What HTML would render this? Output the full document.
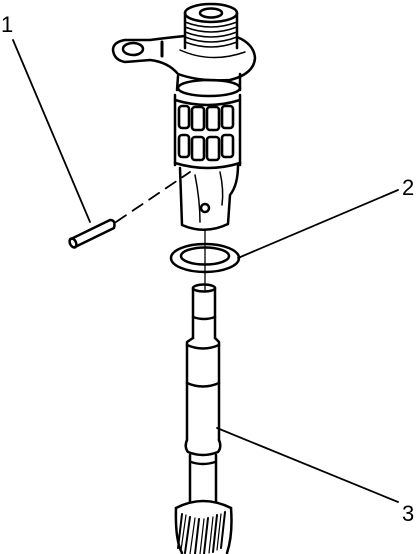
<!DOCTYPE html>
<html><head><meta charset="utf-8"><style>
html,body{margin:0;padding:0;background:#fff;}
svg{display:block;}
text{font-family:"Liberation Sans",sans-serif;font-size:22px;fill:#000;}
</style></head><body>
<svg width="419" height="554" viewBox="0 0 419 554" fill="none" stroke="#000" stroke-width="2.5" stroke-linejoin="round" stroke-linecap="round">
<text x="1" y="32" stroke="none">1</text>
<text x="402" y="195" stroke="none">2</text>
<text x="402" y="521" stroke="none">3</text>
<line x1="13" y1="40" x2="90" y2="222" stroke-width="1.8"/>
<line x1="398" y1="190" x2="238" y2="258" stroke-width="1.8"/>
<line x1="398" y1="502" x2="217" y2="428" stroke-width="1.8"/>

<g>
<path d="M71,239 L110,220 Q116,220 114,228 L75,247"/>
<ellipse cx="73" cy="243" rx="3" ry="4.8" transform="rotate(-26 73 243)"/>
</g>
<line x1="116" y1="222" x2="190" y2="172" stroke-dasharray="12,8" stroke-width="1.8"/>

<g>
<path d="M185,13 L185,48 M237,13 L237,48"/>
<ellipse cx="211" cy="13" rx="26" ry="9"/>
<ellipse cx="211" cy="13" rx="11" ry="4.5"/>
<path d="M185,22 Q211,32 237,22 M185,27 Q211,37 237,27 M185,32 Q211,42 237,32 M185,37 Q211,47 237,37 M185,42 Q211,52 237,42" stroke-width="1.5"/>
<path d="M185,36 Q165,38 150,40 L125,40 Q113,42 113,50 Q114,60 125,62 L150,60 Q168,62 178,74 Q200,82 230,80 Q254,74 255,58 Q254,44 237,37"/>
<ellipse cx="133" cy="49" rx="10" ry="6"/>
<path d="M162,42 L162,56" stroke-width="3"/>
<path d="M180,50 Q211,64 245,52" stroke-width="1.5"/>
<path d="M178,76 L177,90 M240,74 L240,90"/>
<ellipse cx="209" cy="88" rx="31" ry="8"/>
<path d="M175,95 L175,165 M240,95 L240,165"/>
<path d="M175,100 Q208,110 240,100"/>
<g stroke-width="2.6">
<rect x="179" y="106" width="10" height="22" rx="3"/>
<rect x="192" y="107" width="12" height="23" rx="3"/>
<rect x="207" y="107" width="12" height="23" rx="3"/>
<rect x="222" y="106" width="11" height="22" rx="3"/>
<rect x="179" y="135" width="10" height="22" rx="3"/>
<rect x="192" y="137" width="12" height="23" rx="3"/>
<rect x="207" y="137" width="12" height="23" rx="3"/>
<rect x="222" y="135" width="11" height="22" rx="3"/>
</g>
<path d="M175,163 Q208,173 240,163"/>
<path d="M180,168 L182,225 Q205,235 228,224 L230,195 Q238,185 238,165"/>
<path d="M195,175 Q200,200 200,222 M220,172 Q224,190 222,205" stroke-width="1.5"/>
<circle cx="205" cy="208" r="4"/>
</g>

<line x1="205" y1="230" x2="205" y2="290" stroke-width="1.3"/>

<g>
<ellipse cx="205" cy="258" rx="34" ry="14"/>
<ellipse cx="205" cy="256" rx="24" ry="8.5"/>
</g>

<g>
<ellipse cx="204" cy="288" rx="11" ry="3.5"/>
<path d="M193,288 L193,338 M215,288 L215,338"/>
<path d="M193,317 Q204,321 215,317"/>
<path d="M193,338 L187,342 L187,440 M215,338 L219,342 L219,440"/>
<path d="M187,345 Q203,352 219,345"/>
<path d="M187,383 Q203,390 219,383"/>
<path d="M187,440 Q184,447 188,452 Q203,458 218,452 Q222,447 219,440" />
<path d="M190,455 L190,502 M216,455 L216,502"/>
<path d="M191,462 Q203,466 215,462"/>
<path d="M176,508 Q175,540 182,553 M231,508 Q233,535 227,553"/>
<path d="M176,508 Q203,494 231,508"/>
<path d="M182,514 L178,548 M190,517 L185,553 M199,519 L195,554 M208,518 L204,554 M217,515 L213,552 M225,512 L221,548" stroke-width="2"/>
<path d="M186,515 L181,550 M195,518 L190,554 M204,519 L200,554 M213,517 L209,553 M221,514 L217,550" stroke-width="1.2"/>
</g>
</svg>
</body></html>
